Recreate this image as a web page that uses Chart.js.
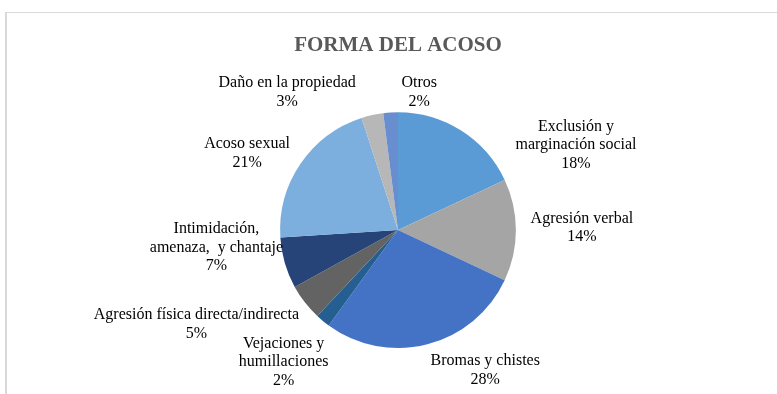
<!DOCTYPE html>
<html>
<head>
<meta charset="utf-8">
<script src="https://cdn.jsdelivr.net/npm/chart.js@4"></script>
<style>
    html, body { margin: 0; padding: 0; background: #fff; }
    #wrap { position: relative; width: 777px; height: 394px; overflow: hidden; }
    #frame {
        position: absolute; left: 5px; top: 12px; width: 900px; height: 500px;
        border-top: 1px solid #d9d9d9; border-left: 2px solid #d9d9d9;
    }
    #acosoChart { position: absolute; left: 0; top: 0; }
</style>
</head>
<body>
<div id="wrap">
    <div id="frame"></div>
    <canvas id="acosoChart" width="777" height="394"></canvas>
</div>
<script>
// categories (one line per array item), clockwise from 12 o'clock
const categories = [
    ['Exclusión y', 'marginación social'],
    ['Agresión verbal'],
    ['Bromas y chistes'],
    ['Vejaciones y', 'humillaciones'],
    ['Agresión física directa/indirecta'],
    ['Intimidación,', 'amenaza,  y chantaje'],
    ['Acoso sexual'],
    ['Daño en la propiedad'],
    ['Otros']
];
const percents = [18, 14, 28, 2, 5, 7, 21, 3, 2];
const sliceColors = ['#5B9BD5', '#A5A5A5', '#4472C4', '#255E91', '#636363',
                     '#264478', '#7CAFDD', '#B7B7B7', '#698ED0'];

// where each data label sits, relative to pie centre, in units of the radius
const labelOffsets = [
    [1.51, -0.72], [1.56, -0.02], [0.74, 1.19], [-0.97, 1.12], [-1.71, 0.80],
    [-1.54, 0.15], [-1.28, -0.65], [-0.94, -1.17], [0.18, -1.17]
];

const serif = '"Liberation Serif", "Times New Roman", serif';

// draws "name + value%" labels around the pie (Excel best-fit look)
const pieLabels = {
    id: 'pieLabels',
    afterDatasetsDraw(chart) {
        const ctx = chart.ctx;
        const arcs = chart.getDatasetMeta(0).data;
        ctx.save();
        ctx.font = '16px ' + serif;
        ctx.fillStyle = '#000';
        ctx.textAlign = 'center';
        ctx.textBaseline = 'middle';
        arcs.forEach((arc, i) => {
            const r = arc.outerRadius;
            const cx = arc.x + labelOffsets[i][0] * r;
            const cy = arc.y + labelOffsets[i][1] * r;
            const lines = categories[i].concat([percents[i] + '%']);
            const lh = 18.5;
            const top = cy - (lines.length - 1) * lh / 2;
            lines.forEach((txt, k) => ctx.fillText(txt, cx, top + k * lh));
        });
        ctx.restore();
    }
};

const ctx = document.getElementById('acosoChart').getContext('2d');
new Chart(ctx, {
    type: 'pie',
    data: {
        labels: categories,
        datasets: [{
            data: percents,
            backgroundColor: sliceColors,
            borderWidth: 0
        }]
    },
    options: {
        responsive: false,
        animation: false,
        layout: {
            padding: { top: 33, bottom: 46, left: 280, right: 261 }
        },
        plugins: {
            legend: { display: false },
            tooltip: { enabled: false },
            title: {
                display: true,
                text: 'FORMA DEL ACOSO',
                color: '#595959',
                font: { family: serif, size: 21, weight: 'bold', lineHeight: 1.2 },
                padding: { top: 0, bottom: 54 }
            }
        }
    },
    plugins: [pieLabels]
});
</script>
</body>
</html>
